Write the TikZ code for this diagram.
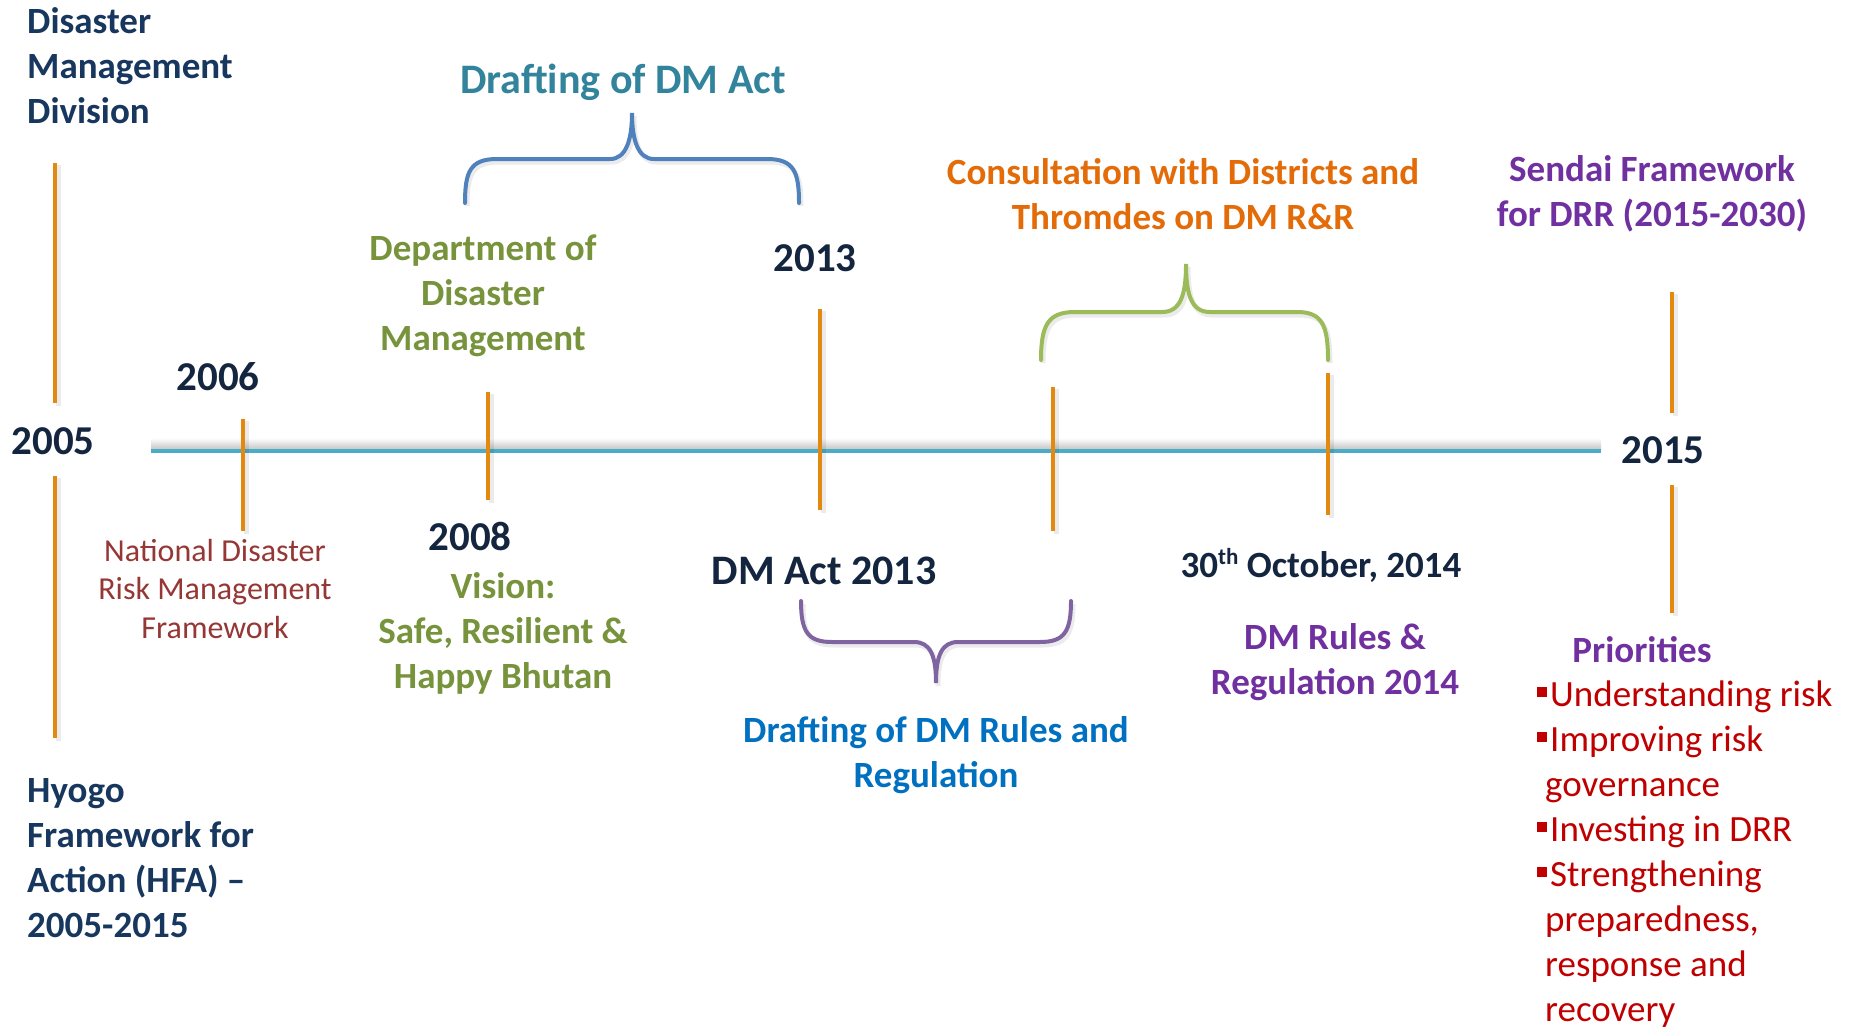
\documentclass[tikz,border=0pt]{standalone}
\usepackage{fontspec}
\setmainfont{Carlito}
\definecolor{cNavy}{HTML}{14263F}
\definecolor{cDmd}{HTML}{17375E}
\definecolor{cTeal}{HTML}{31849B}
\definecolor{cBraceBlue}{HTML}{4F81BD}
\definecolor{cGreen}{HTML}{77933C}
\definecolor{cBraceGreen}{HTML}{9BBB59}
\definecolor{cBracePurple}{HTML}{8064A2}
\definecolor{cBrick}{HTML}{953735}
\definecolor{cTick}{HTML}{E3890F}
\definecolor{cOrange}{HTML}{E36C09}
\definecolor{cBlue}{HTML}{0070C0}
\definecolor{cPurple}{HTML}{7030A0}
\definecolor{cRed}{HTML}{C00000}
\definecolor{cLine}{HTML}{4BACC6}
\newcommand\mlines[2]{\begin{tabular}[t]{@{}#1@{}}#2\end{tabular}}
\newcommand\sqbul{\raisebox{9pt}{\rule{10pt}{10pt}}\hspace{3pt}}
\tikzset{
  txt/.style={inner sep=0pt, anchor=base, font=\bfseries\fontsize{37}{45}\selectfont},
  yr/.style={inner sep=0pt, anchor=base, font=\bfseries\fontsize{41}{49}\selectfont, text=cNavy},
  tick/.style={draw=cTick, line width=4pt},
  tickshadow/.style={draw=black, opacity=0.08, line width=5pt},
  bracepath/.style={line width=4pt, line cap=round},
  braceshadow/.style={draw=black, opacity=0.08, line width=5pt}
}
\begin{document}
\begin{tikzpicture}[x=1pt,y=-1pt]
\fill[white] (0,0) rectangle (1851,1028);
\useasboundingbox (0,0) rectangle (1851,1028);

% timeline
\coordinate (tlA) at (151,451);
\coordinate (tlB) at (1601,451);
\shade[top color=white, bottom color=black!22] (151,438) rectangle (1601,449);
\draw[line width=4pt, cLine] (tlA) -- (tlB);

% ticks (shadows first)
\foreach \x/\a/\b in {55/163/403, 55/476/738, 243/419/531, 488/392/500, 820/309/510, 1053/387/531, 1328/373/515, 1672/292/413, 1672/485/613}{
  \draw[tickshadow] (\x+3,\a+2) -- (\x+3,\b+3);
  \draw[tick] (\x,\a) -- (\x,\b);
}

% braces
\draw[braceshadow] (467,206) .. controls (467,175) and (472,162) .. (499,162) -- (612,162) .. controls (628,162) and (634,143) .. (634,116) .. controls (634,143) and (640,162) .. (656,162) -- (769,162) .. controls (796,162) and (801,175) .. (801,206);
\draw[bracepath, cBraceBlue] (465,203) .. controls (465,172) and (470,159) .. (497,159) -- (610,159) .. controls (626,159) and (632,140) .. (632,113) .. controls (632,140) and (638,159) .. (654,159) -- (767,159) .. controls (794,159) and (799,172) .. (799,203);

\draw[braceshadow] (1043,363) .. controls (1043,328) and (1050,315) .. (1077,315) -- (1164,315) .. controls (1182,315) and (1188,299) .. (1188,267) .. controls (1188,299) and (1194,315) .. (1212,315) -- (1299,315) .. controls (1324,315) and (1330,328) .. (1330,363);
\draw[bracepath, cBraceGreen] (1041,360) .. controls (1041,325) and (1048,312) .. (1075,312) -- (1162,312) .. controls (1180,312) and (1186,296) .. (1186,264) .. controls (1186,296) and (1192,312) .. (1210,312) -- (1297,312) .. controls (1322,312) and (1328,325) .. (1328,360);

\draw[braceshadow] (803,604) .. controls (803,635) and (810,645) .. (834,645) -- (916,645) .. controls (932,645) and (938,658) .. (938,686) .. controls (938,658) and (944,645) .. (960,645) -- (1042,645) .. controls (1066,645) and (1073,635) .. (1073,604);
\draw[bracepath, cBracePurple] (801,601) .. controls (801,632) and (808,642) .. (832,642) -- (914,642) .. controls (930,642) and (936,655) .. (936,683) .. controls (936,655) and (942,642) .. (958,642) -- (1040,642) .. controls (1064,642) and (1071,632) .. (1071,601);

% texts
\node[txt, anchor=base west, text=cDmd] (dmd) at (27,33) {\mlines{l}{Disaster\\Management\\Division}};
\node[yr] (y2005) at (53,454) {2005};
\node[txt, anchor=base west, text=cDmd] (hfa) at (27,802) {\mlines{l}{Hyogo\\Framework for\\Action (HFA) –\\2005-2015}};
\node[yr] (y2006) at (218,390) {2006};
\node[inner sep=0pt, anchor=base, font=\fontsize{32}{38.5}\selectfont, text=cBrick] (ndrmf) at (215,561) {\mlines{c}{National Disaster\\Risk Management\\Framework}};
\node[txt, text=cGreen] (ddm) at (483,260) {\mlines{c}{Department of\\Disaster\\Management}};
\node[txt, font=\bfseries\fontsize{42}{50}\selectfont, text=cTeal] (dact) at (623,93) {Drafting of DM Act};
\node[yr] (y2008) at (470,550) {2008};
\node[txt, text=cGreen] (vision) at (503,598) {\mlines{c}{Vision:\\Safe, Resilient \&\\Happy Bhutan}};
\node[yr] (y2013) at (815,271) {2013};
\node[txt, font=\bfseries\fontsize{42}{50}\selectfont, text=cNavy] (act13) at (824,584) {DM Act 2013};
\node[txt, text=cBlue] (drules) at (936,742) {\mlines{c}{Drafting of DM Rules and\\Regulation}};
\node[txt, text=cOrange] (consult) at (1183,184) {\mlines{c}{Consultation with Districts and\\Thromdes on DM R\&R}};
\node[txt, text=cNavy] (oct) at (1321,577) {30\raisebox{13pt}{\fontsize{23}{23}\selectfont th} October, 2014};
\node[txt, text=cPurple] (rules14) at (1335,649) {\mlines{c}{DM Rules \&\\Regulation 2014}};
\node[txt, text=cPurple] (sendai) at (1652,181) {\mlines{c}{Sendai Framework\\for DRR (2015-2030)}};
\node[yr] (y2015) at (1663,463) {2015};
\node[txt, text=cPurple] (prio) at (1642,662) {Priorities};
\node[inner sep=0pt, anchor=base west, font=\fontsize{37}{45}\selectfont, text=cRed] (plist) at (1537,706) {\mlines{l}{\sqbul Understanding risk\\ \sqbul Improving risk\\ \hspace{8pt}governance\\ \sqbul Investing in DRR\\ \sqbul Strengthening\\ \hspace{8pt}preparedness,\\ \hspace{8pt}response and\\ \hspace{8pt}recovery}};
\end{tikzpicture}
\end{document}
